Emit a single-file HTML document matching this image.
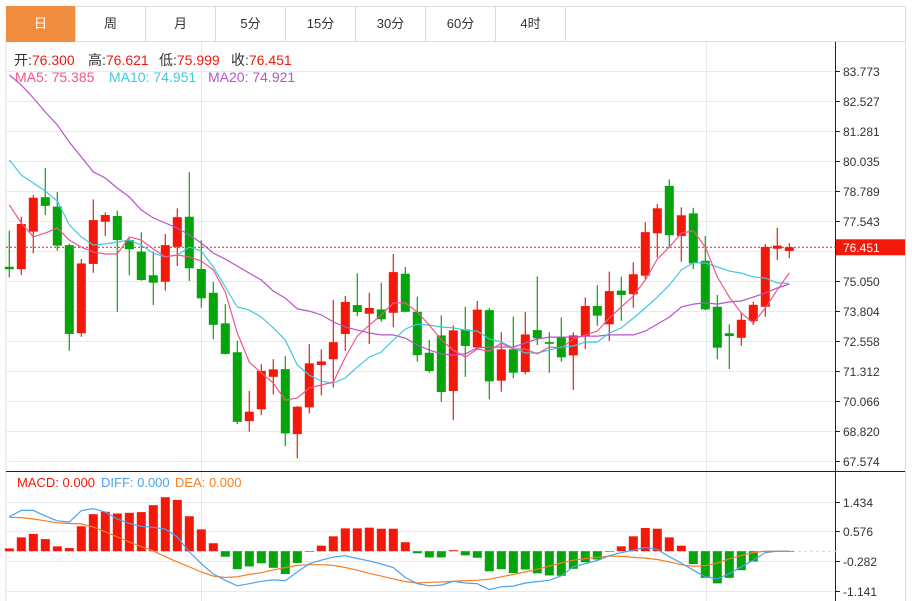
<!DOCTYPE html>
<html><head><meta charset="utf-8">
<style>
body{margin:0;background:#fff;font-family:"Liberation Sans","Noto Sans CJK SC",sans-serif;}
#wrap{position:relative;width:912px;height:601px;overflow:hidden;}
.tab{position:absolute;top:6px;height:36px;line-height:36px;text-align:center;font-size:13px;color:#333;border-right:1px solid #dcdcdc;box-sizing:border-box;}
svg text{font-family:"Liberation Sans","Noto Sans CJK SC",sans-serif;}
</style></head><body>
<div id="wrap">
<div style="position:absolute;left:5px;top:6px;width:901px;height:36px;border-top:1px solid #dcdcdc;border-bottom:1px solid #dcdcdc;box-sizing:border-box"></div>
<div class="tab" style="left:6px;width:70px;background:#f18d3e;color:#fff">日</div>
<div class="tab" style="left:76px;width:70px">周</div>
<div class="tab" style="left:146px;width:70px">月</div>
<div class="tab" style="left:216px;width:70px">5分</div>
<div class="tab" style="left:286px;width:70px">15分</div>
<div class="tab" style="left:356px;width:70px">30分</div>
<div class="tab" style="left:426px;width:70px">60分</div>
<div class="tab" style="left:496px;width:70px">4时</div>
<svg id="chart" width="912" height="601" style="position:absolute;left:0;top:0"></svg>
</div>
<script>
const opens=[75.64,75.54,77.10,78.53,78.14,76.54,72.88,75.76,77.51,77.75,76.75,76.27,75.29,75.02,76.47,77.72,75.55,74.56,73.29,72.09,69.23,69.72,71.07,71.39,68.69,69.80,71.56,71.80,72.85,74.05,73.69,73.87,73.73,75.35,73.77,72.07,72.79,70.48,73.04,72.29,73.84,70.91,72.21,71.27,73.01,72.51,72.73,71.96,72.76,74.01,73.25,74.65,74.50,75.27,77.03,79.00,76.92,77.86,75.89,73.98,72.88,72.69,73.39,73.98,76.39,76.300];
const highs=[77.14,77.72,78.62,79.74,78.75,76.60,75.96,78.44,77.90,77.97,76.82,77.07,76.27,77.00,78.07,79.57,76.74,75.01,74.09,72.57,70.48,71.60,71.80,71.93,69.85,72.43,72.21,74.26,74.43,75.37,74.56,74.98,76.17,75.63,74.40,72.60,73.62,73.21,73.98,74.22,73.93,72.92,73.57,73.77,75.24,72.92,73.54,72.92,74.36,74.88,75.44,75.23,75.83,77.49,78.25,79.27,78.11,78.09,76.92,74.47,73.25,73.73,74.19,76.59,77.26,76.621];
const lows=[75.20,75.30,76.20,77.79,76.31,72.15,72.73,75.39,76.92,73.77,75.29,75.06,74.05,74.65,75.67,75.05,73.94,72.63,72.00,69.11,68.79,69.48,70.34,68.19,67.68,69.55,70.30,70.62,72.15,73.59,72.43,73.36,73.13,73.75,71.70,71.24,70.03,69.27,71.07,72.18,70.13,70.45,71.01,71.17,72.39,71.24,71.70,70.52,72.22,73.19,72.56,73.40,73.94,75.13,76.03,76.43,75.85,75.55,73.84,71.80,71.39,72.36,73.22,73.57,75.92,75.999];
const closes=[75.54,77.42,78.51,78.17,76.52,72.85,75.78,77.58,77.79,76.75,76.37,75.09,74.98,76.54,77.70,75.58,74.33,73.23,72.02,69.20,69.62,71.32,71.38,68.72,69.83,71.63,71.71,72.51,74.18,73.76,73.93,73.46,75.42,73.77,71.97,71.31,70.44,73.00,72.35,73.86,70.88,72.21,71.24,72.83,72.67,72.44,71.88,72.79,74.01,73.61,74.63,74.47,75.33,77.08,78.07,76.95,77.78,75.78,73.87,72.28,72.76,73.44,74.06,76.46,76.52,76.451];
const ma5=[78.21,77.46,76.88,77.04,77.25,76.75,76.46,76.25,76.17,76.17,76.88,76.75,76.38,76.05,76.13,76.05,75.88,75.51,74.59,72.89,71.68,71.23,70.81,70.10,70.19,70.60,70.73,70.85,71.89,72.76,73.22,73.64,74.14,74.14,73.76,73.22,72.60,72.18,71.89,72.22,72.14,72.47,72.22,72.22,72.02,72.31,72.27,72.64,72.81,72.97,73.51,73.97,74.43,75.09,75.96,76.46,77.04,77.13,76.46,75.22,74.38,73.72,73.30,73.93,74.68,75.385];
const ma10=[80.08,79.45,79.12,78.79,78.37,77.38,76.88,76.54,76.59,76.67,76.75,76.54,76.21,76.05,76.13,76.46,76.30,75.63,74.80,73.97,73.84,73.55,73.10,72.60,71.56,71.14,70.89,70.81,71.02,71.48,71.89,72.10,72.60,73.05,73.26,73.22,73.14,73.10,73.01,72.97,72.64,72.51,72.27,72.06,72.06,72.18,72.31,72.35,72.51,72.51,72.89,73.10,73.51,73.93,74.38,74.88,75.51,75.80,75.80,75.63,75.46,75.38,75.22,75.17,74.97,74.951];
const ma20=[83.61,83.19,82.65,82.07,81.53,80.82,80.20,79.58,79.33,78.91,78.54,78.00,77.67,77.46,77.25,76.96,76.63,76.21,75.96,75.67,75.38,75.09,74.63,74.34,73.89,73.80,73.64,73.35,73.14,73.01,72.89,72.81,72.81,72.68,72.39,72.18,72.02,71.97,72.02,72.27,72.31,72.31,72.31,72.47,72.64,72.72,72.72,72.72,72.76,72.76,72.81,72.81,72.81,72.97,73.26,73.55,73.97,74.09,74.14,74.09,74.18,74.22,74.38,74.55,74.76,74.921];
const macd=[0.08,0.40,0.50,0.35,0.14,0.09,0.72,1.07,1.14,1.09,1.11,1.13,1.33,1.56,1.48,1.01,0.63,0.23,-0.16,-0.52,-0.44,-0.35,-0.48,-0.66,-0.34,0.00,0.16,0.43,0.66,0.66,0.68,0.65,0.65,0.26,-0.06,-0.18,-0.18,0.03,-0.12,-0.19,-0.58,-0.52,-0.63,-0.53,-0.64,-0.70,-0.71,-0.51,-0.32,-0.24,-0.01,0.14,0.43,0.67,0.65,0.40,0.16,-0.37,-0.77,-0.93,-0.77,-0.55,-0.30,0,0,0];
const diff=[0.99,1.18,1.18,1.02,0.88,0.84,1.17,1.23,1.13,0.93,0.80,0.72,0.69,0.64,0.41,-0.02,-0.36,-0.66,-0.84,-1.00,-0.94,-0.87,-0.83,-0.85,-0.60,-0.36,-0.26,-0.17,-0.13,-0.21,-0.28,-0.37,-0.47,-0.76,-0.94,-1.00,-0.98,-0.87,-0.92,-0.94,-1.11,-1.03,-1.01,-0.92,-0.88,-0.84,-0.71,-0.45,-0.36,-0.27,-0.13,-0.04,0.03,0.11,0.05,-0.16,-0.34,-0.55,-0.74,-0.80,-0.65,-0.45,-0.26,-0.04,0,0];
const dea=[0.98,0.97,0.93,0.88,0.82,0.80,0.79,0.70,0.56,0.41,0.27,0.13,0.01,-0.16,-0.31,-0.45,-0.60,-0.72,-0.76,-0.74,-0.67,-0.62,-0.54,-0.47,-0.41,-0.39,-0.39,-0.41,-0.47,-0.55,-0.64,-0.72,-0.80,-0.88,-0.92,-0.90,-0.89,-0.87,-0.85,-0.84,-0.81,-0.74,-0.67,-0.60,-0.52,-0.43,-0.34,-0.26,-0.21,-0.18,-0.14,-0.15,-0.18,-0.20,-0.24,-0.31,-0.39,-0.44,-0.42,-0.34,-0.22,-0.12,-0.04,0,0,0];
const priceTicks=["83.773","82.527","81.281","80.035","78.789","77.543","75.050","73.804","72.558","71.312","70.066","68.820","67.574"];
const macdTicks=["1.434","0.576","-0.282","-1.141"];
const lastPrice=76.451;

const NS="http://www.w3.org/2000/svg";
const svg=document.getElementById('chart');
function mk(tag,attrs,parent){const e=document.createElementNS(NS,tag);for(const k in attrs)e.setAttribute(k,attrs[k]);(parent||svg).appendChild(e);return e;}
const RED="#f2190b",GREEN="#05a40b";
function xs(i){return 9.3+i*12.0;}
function yp(p){return 71+(83.773-p)*24.074;}
function ym(v){return 551.2-v*34.6;}

let e;
e=mk('line',{x1:6,y1:42,x2:6,y2:601,stroke:'#dcdcdc'});

e=mk('line',{x1:905.5,y1:6,x2:905.5,y2:601,stroke:'#dcdcdc'});

const grid=mk('g',{stroke:'#e3ebf1','stroke-width':1});

priceTicks.forEach(t=>{const y=Math.round(yp(parseFloat(t)))+0.5;mk('line',{x1:6,y1:y,x2:836,y2:y},grid);});
mk('line',{x1:6,y1:yp(76.297)+0.5,x2:836,y2:yp(76.297)+0.5},grid);
macdTicks.forEach(t=>{const y=Math.round(ym(parseFloat(t)))+0.5;mk('line',{x1:6,y1:y,x2:836,y2:y},grid);});
[201.5,706.5].forEach(x=>mk('line',{x1:x,y1:42,x2:x,y2:601},grid));
e=mk('line',{x1:6,y1:471.5,x2:905,y2:471.5,stroke:'#222'});

e=mk('line',{x1:835.5,y1:42,x2:835.5,y2:601,stroke:'#222'});

priceTicks.forEach(t=>{const y=Math.round(yp(parseFloat(t)))+0.5;
 mk('line',{x1:836,y1:y,x2:840,y2:y,stroke:'#222'});
 const tx=mk('text',{x:843,y:y+4.5,'font-size':12,fill:'#333'});tx.textContent=t;
 });
macdTicks.forEach(t=>{const y=Math.round(ym(parseFloat(t)))+0.5;
 mk('line',{x1:836,y1:y,x2:840,y2:y,stroke:'#222'});
 const tx=mk('text',{x:843,y:y+4.5,'font-size':12,fill:'#333'});tx.textContent=t;
 });
const ly=yp(lastPrice);
e=mk('line',{x1:6,y1:ly,x2:836,y2:ly,stroke:RED,'stroke-dasharray':'2,2'});

e=mk('rect',{x:836,y:ly-8,width:69,height:16,fill:RED});

e=mk('text',{x:843,y:ly+4.5,'font-size':12,fill:'#fff'});e.textContent=lastPrice.toFixed(3);

const cg=mk('g',{});

opens.forEach((o,i)=>{const c=closes[i];const col=c>=o?RED:GREEN;const x=xs(i);
 const g=mk('g',{},cg);
 
 mk('line',{x1:x,y1:yp(highs[i]),x2:x,y2:yp(lows[i]),stroke:col,'stroke-width':1.2},g);
 const t=yp(Math.max(o,c)),b=yp(Math.min(o,c));
 mk('rect',{x:x-4.5,y:t,width:9,height:Math.max(1.5,b-t),fill:col},g);});
function line(arr,f,col,name){let d='';arr.forEach((v,i)=>{d+=(i?'L':'M')+xs(i).toFixed(1)+','+f(v).toFixed(1);});
 const p=mk('path',{d:d,fill:'none',stroke:col,'stroke-width':1.2});
 return p;}
line(ma20,yp,'#b455c8','ma20-line');
line(ma10,yp,'#3fc9dd','ma10-line');
line(ma5,yp,'#f0568a','ma5-line');
e=mk('line',{x1:6,y1:ym(0),x2:836,y2:ym(0),stroke:'#bfdcec','stroke-dasharray':'3,3'});

const mg=mk('g',{});

macd.forEach((v,i)=>{const y0=ym(0),y1=ym(v);const r=mk('rect',{x:xs(i)-4.5,y:Math.min(y0,y1),width:9,height:Math.max(0.6,Math.abs(y1-y0)),fill:v>=0?RED:GREEN},mg);
 });
line(dea,ym,'#f57f24','dea-line');
line(diff,ym,'#4aa3f0','diff-line');
function txt(x,y,s,col,name,fs){const t=mk('text',{x:x,y:y,'font-size':fs||13,fill:col});t.textContent=s;return t;}
const info=[["开:",opens[65].toFixed(3),14],["高:",highs[65].toFixed(3),88],["低:",lows[65].toFixed(3),159],["收:",closes[65].toFixed(3),231]];
info.forEach(a=>{const t=mk('text',{x:a[2],y:65,'font-size':14,fill:'#333'});
 const s1=mk('tspan',{},t);s1.textContent=a[0];const s2=mk('tspan',{fill:RED},t);s2.textContent=a[1];});
txt(15,82,"MA5: "+ma5[65].toFixed(3),'#f0568a','ma5-legend',14);
txt(109,82,"MA10: "+ma10[65].toFixed(3),'#3fc9dd','ma10-legend',14);
txt(208,82,"MA20: "+ma20[65].toFixed(3),'#b455c8','ma20-legend',14);
txt(17,487,"MACD: 0.000",RED,'macd-legend');
txt(101,487,"DIFF: 0.000",'#4aa3f0','diff-legend');
txt(175,487,"DEA: 0.000",'#f57f24','dea-legend');
</script>
</body></html>
